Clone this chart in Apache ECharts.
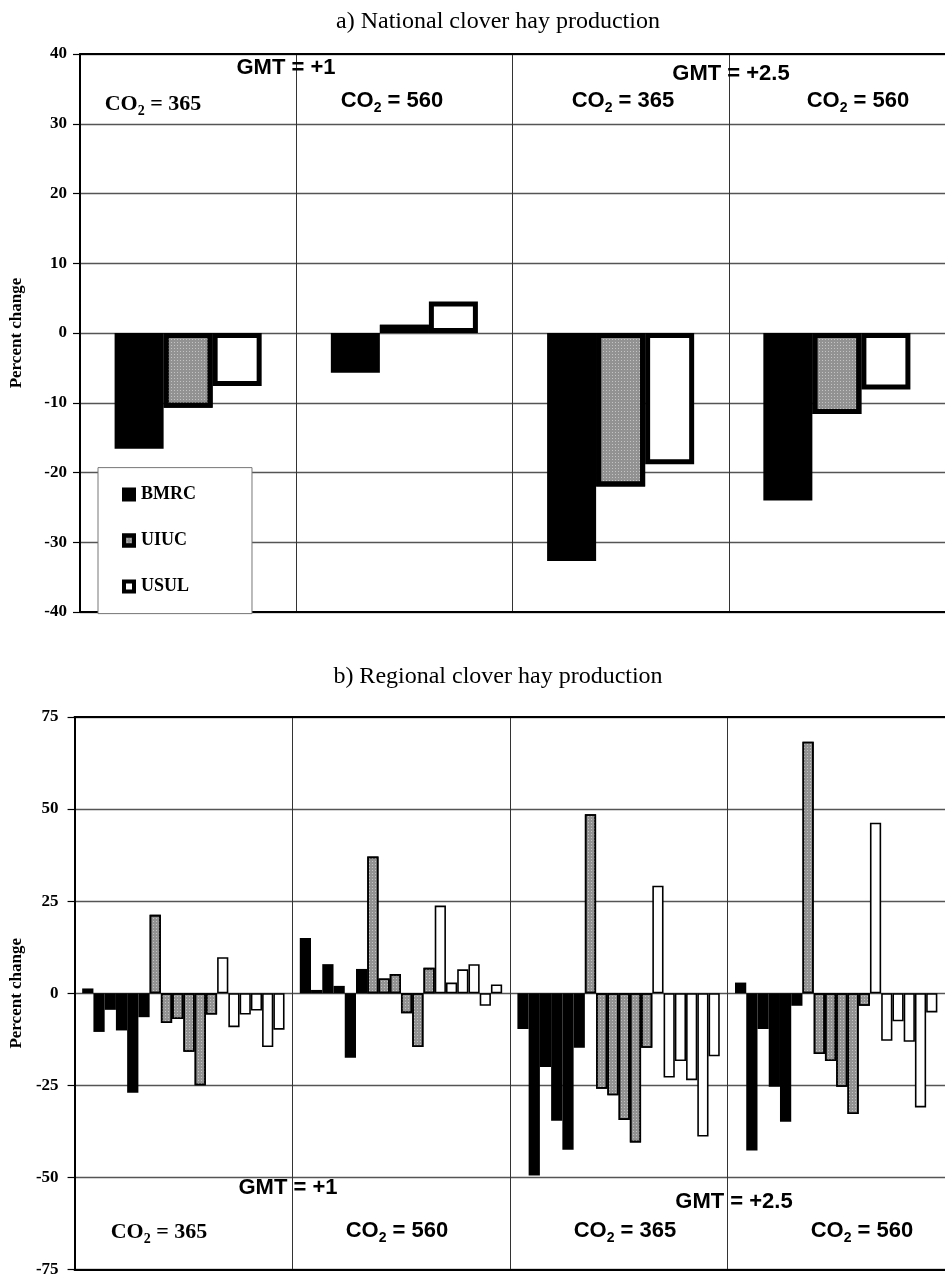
<!DOCTYPE html>
<html><head><meta charset="utf-8">
<script src="https://cdn.jsdelivr.net/npm/echarts@6/dist/echarts.min.js"></script>
<style>html,body{margin:0;padding:0;background:#fff}#c{width:945px;height:1278px}</style>
</head><body><div id="c"></div>
<script>
// ---------------- data ----------------
const categories = ['GMT +1, CO2 365', 'GMT +1, CO2 560', 'GMT +2.5, CO2 365', 'GMT +2.5, CO2 560'];
const models = ['BMRC', 'UIUC', 'USUL'];
const topTicks = [-40, -30, -20, -10, 0, 10, 20, 30, 40];
const bottomTicks = [-75, -50, -25, 0, 25, 50, 75];

// a) national production, % change per scenario
const bmrcNational = [-16.6, -5.7, -32.7, -24.0];
const uiucNational = [-10.7, 1.2, -22.0, -11.6];
const usulNational = [-7.6, 4.5, -18.8, -8.1];

// b) regional production, % change: one row per scenario, six regions each
const bmrcRegional = [
  [1.3, -10.5, -4.5, -10.1, -27.0, -6.5],
  [15.0, 0.9, 7.9, 2.0, -17.5, 6.6],
  [-9.7, -49.5, -20.0, -34.6, -42.5, -14.8],
  [2.9, -42.7, -9.7, -25.4, -34.9, -3.4]
];
const uiucRegional = [
  [21.3, -8.1, -7.0, -15.9, -25.0, -5.8],
  [37.1, 4.0, 5.2, -5.4, -14.6, 6.9],
  [48.6, -25.9, -27.7, -34.4, -40.5, -14.8],
  [68.3, -16.5, -18.4, -25.4, -32.8, -3.4]
];
const usulRegional = [
  [9.8, -9.2, -5.8, -4.7, -14.6, -9.9],
  [23.8, 2.9, 6.5, 7.9, -3.4, 2.4],
  [29.2, -22.9, -18.4, -23.6, -38.9, -17.1],
  [46.3, -12.9, -7.6, -13.2, -31.0, -5.2]
];

// ---------------- styles ----------------
const national = {BMRC: bmrcNational, UIUC: uiucNational, USUL: usulNational};
const regional = {BMRC: bmrcRegional, UIUC: uiucRegional, USUL: usulRegional};
const fills = {BMRC: '#000000', UIUC: '#929292', USUL: '#ffffff'};
const grayDecal = {symbol: 'rect', symbolSize: 1, color: 'rgba(255,255,255,0.45)',
                   dashArrayX: [1, 2], dashArrayY: [1, 2], rotation: 0};
const SERIF = 'Liberation Serif';
const SANS = 'Liberation Sans';

function styleFor(m, bw) {
  const s = {color: fills[m], borderColor: '#000', borderWidth: m === 'BMRC' ? 0 : bw};
  if (m === 'UIUC') s.decal = grayDecal;
  return s;
}

const series = [];
models.forEach(m => {
  series.push({
    name: m, type: 'bar', xAxisIndex: 0, yAxisIndex: 0,
    data: national[m], barGap: '0%', barCategoryGap: '32%',
    itemStyle: styleFor(m, 5)
  });
});
models.forEach(m => {
  for (let r = 0; r < 6; r++) {
    series.push({
      name: m, type: 'bar', xAxisIndex: 2, yAxisIndex: 1,
      data: regional[m].map(g => g[r]), barGap: '0%', barCategoryGap: '7%',
      itemStyle: styleFor(m, 1.6)
    });
  }
});

function xCat(gridIndex, pos) {
  return {
    type: 'category', gridIndex: gridIndex, data: categories, position: pos,
    axisLabel: {show: false}, axisTick: {show: false},
    axisLine: {show: true, onZero: false, lineStyle: {color: '#000', width: 2}},
    splitLine: {show: pos === 'bottom', lineStyle: {color: '#333', width: 1}}
  };
}
function yVal(gridIndex, ticks, nameGap, margin) {
  return {
    type: 'value', gridIndex: gridIndex,
    min: ticks[0], max: ticks[ticks.length - 1], interval: ticks[1] - ticks[0],
    name: 'Percent change', nameLocation: 'middle', nameGap: nameGap,
    nameTextStyle: {fontFamily: SERIF, fontWeight: 'bold', fontSize: 17, color: '#000'},
    axisLine: {show: true, lineStyle: {color: '#000', width: 2}},
    axisTick: {show: true, length: 7, lineStyle: {color: '#000', width: 1.2}},
    axisLabel: {fontFamily: SERIF, fontWeight: 'bold', fontSize: 17, color: '#000', margin: margin},
    splitLine: {show: true, lineStyle: {color: '#555', width: 1.3}}
  };
}

const option = {
  animation: false,
  backgroundColor: '#fff',
  grid: [
    {left: 80, top: 54, width: 868, height: 558},
    {left: 70, top: 717, width: 892, height: 556}
  ],
  xAxis: [xCat(0, 'bottom'), xCat(0, 'top'), xCat(1, 'bottom'), xCat(1, 'top')],
  yAxis: [yVal(0, topTicks, 55, 13), yVal(1, bottomTicks, 49, 16)],
  series: series
};

const chart = echarts.init(document.getElementById('c'));
chart.setOption(option);

// ---------------- annotations ----------------
function co2(num) { return '{m|CO}{s|2}{m| = ' + num + '}'; }
function richFor(family) {
  return {
    m: {fontFamily: family, fontWeight: 'bold', fontSize: 22, lineHeight: 28, fill: '#000'},
    s: {fontFamily: family, fontWeight: 'bold', fontSize: 14, lineHeight: 14, verticalAlign: 'bottom', fill: '#000'}
  };
}
const topNotes = [
  {t: '{m|GMT = +1}', fam: SANS, x: 286, v: 38.0},
  {t: co2(365), fam: SERIF, x: 153, v: 32.8},
  {t: co2(560), fam: SANS, x: 392, v: 33.2},
  {t: '{m|GMT = +2.5}', fam: SANS, x: 731, v: 37.2},
  {t: co2(365), fam: SANS, x: 623, v: 33.2},
  {t: co2(560), fam: SANS, x: 858, v: 33.2}
];
const bottomNotes = [
  {t: '{m|GMT = +1}', fam: SANS, x: 288, v: -52.9},
  {t: co2(365), fam: SERIF, x: 159, v: -65.0},
  {t: co2(560), fam: SANS, x: 397, v: -64.5},
  {t: '{m|GMT = +2.5}', fam: SANS, x: 734, v: -56.6},
  {t: co2(365), fam: SANS, x: 625, v: -64.5},
  {t: co2(560), fam: SANS, x: 862, v: -64.5}
];
const graphics = [];
function addNotes(list, axisIdx) {
  list.forEach(n => {
    graphics.push({
      type: 'text', z: 100, x: n.x, y: chart.convertToPixel({yAxisIndex: axisIdx}, n.v),
      style: {text: n.t, rich: richFor(n.fam), textAlign: 'center', textVerticalAlign: 'middle'}
    });
  });
}
addNotes(topNotes, 0);
addNotes(bottomNotes, 1);
[['a) National clover hay production', 22], ['b) Regional clover hay production', 677]].forEach(t => {
  graphics.push({
    type: 'text', x: 498, y: t[1],
    style: {text: t[0], fontFamily: SERIF, fontSize: 24, fill: '#000', textAlign: 'center', textVerticalAlign: 'middle'}
  });
});

chart.setOption({
  graphic: graphics,
  legend: {
    data: models, orient: 'vertical', left: 98, top: chart.convertToPixel({yAxisIndex: 0}, -19.3),
    padding: [18, 56, 18, 24], itemGap: 28, itemWidth: 10, itemHeight: 10, icon: 'rect',
    backgroundColor: '#fff', borderColor: '#777', borderWidth: 1,
    itemStyle: {borderColor: '#000', borderWidth: 4},
    textStyle: {fontFamily: SERIF, fontWeight: 'bold', fontSize: 18, color: '#000', padding: [0, 0, 0, 2]}
  }
});
</script></body></html>
